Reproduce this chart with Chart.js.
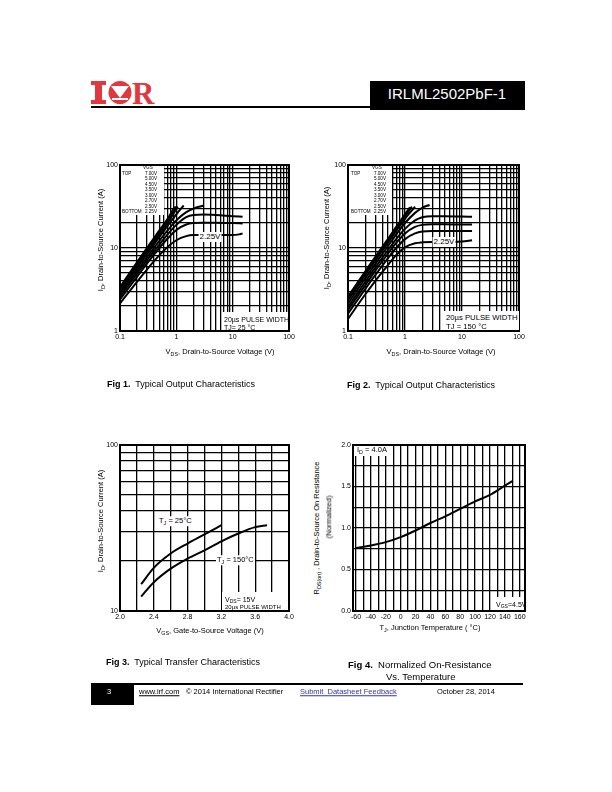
<!DOCTYPE html>
<html>
<head>
<meta charset="utf-8">
<title>IRLML2502PbF-1</title>
<script src="https://cdn.jsdelivr.net/npm/chart.js@4.4.1/dist/chart.umd.min.js"></script>
<style>
  html, body { margin: 0; padding: 0; background: #fff; }
  body { font-family: "Liberation Sans", Arial, sans-serif; color: #000; }
  #page { position: relative; width: 612px; height: 792px; overflow: hidden; }
  canvas { position: absolute; }
  .t { position: absolute; white-space: nowrap; line-height: 1; }
  .l { transform: translateY(-50%); }
  .r { transform: translate(-100%, -50%); }
  .c { transform: translate(-50%, -50%); }
  .rot { transform: translate(-50%, -50%) rotate(-90deg); }
  .wb { position: absolute; background: #fff; }
  .blk { position: absolute; background: #000; }
  sub { font-size: 72%; vertical-align: -0.3em; line-height: 0; }
  .ax { font-size: 7.5px; }
  .lg { font-size: 4.6px; }
  .cap { font-size: 9px; }
  .ft { font-size: 7.5px; }
</style>
</head>
<body>
<div id="page">

  <!-- header -->
  <svg class="t" style="left:91px;top:81px" width="64" height="25" viewBox="0 0 64 25">
    <rect x="0" y="0" width="15" height="4" fill="#e0383e"/>
    <rect x="4" y="0" width="7" height="23" fill="#e0383e"/>
    <rect x="0" y="19" width="15" height="4" fill="#e0383e"/>
    <circle cx="29" cy="11.5" r="11.5" fill="#e0383e"/>
    <polygon points="20,5 38,5 29,17" fill="#fff"/>
    <rect x="21" y="17" width="16" height="2" fill="#fff"/>
    <text x="41" y="23" font-family="Liberation Serif, serif" font-weight="bold" font-size="31" fill="#e0383e">R</text>
  </svg>
  <div class="blk" style="left:91px;top:106px;width:280px;height:2px"></div>
  <div class="blk" style="left:370px;top:81px;width:155px;height:29px"></div>
  <div class="t c" style="left:447px;top:93px;font-size:15px;color:#fff">IRLML2502PbF-1</div>

  <canvas id="c1" width="205" height="200" style="left:95px;top:155px"></canvas>
  <canvas id="c2" width="210" height="200" style="left:323px;top:155px"></canvas>
  <canvas id="c3" width="205" height="200" style="left:95px;top:435px"></canvas>
  <canvas id="c4" width="215" height="200" style="left:323px;top:435px"></canvas>

  <!-- Fig 1 texts -->
  <div class="wb" id="lg1" style="left:121px;top:166px;width:43px;height:49px"></div>
  <div class="wb" style="left:222px;top:312px;width:66px;height:18px"></div>
  <div class="t l" style="left:224px;top:318.5px;font-size:7px">20µs PULSE WIDTH</div>
  <div class="t l" style="left:224px;top:326.5px;font-size:7px">TJ= 25 °C</div>
  <div class="t c" style="left:210px;top:236.5px;font-size:8px;background:#fff;padding:1px">2.25V</div>
  <div class="t rot ax" style="left:101px;top:240px">I<sub>D</sub>, Drain-to-Source Current (A)</div>
  <div class="t c ax" style="left:220px;top:352px">V<sub>DS</sub>, Drain-to-Source Voltage (V)</div>
  <div class="t l cap" style="left:107px;top:384px"><b>Fig 1.</b>&nbsp; Typical Output Characteristics</div>

  <!-- Fig 2 texts -->
  <div class="wb" id="lg2" style="left:349px;top:166px;width:43px;height:49px"></div>
  <div class="wb" style="left:444px;top:311px;width:75px;height:19px"></div>
  <div class="t l" style="left:446px;top:318px;font-size:7.7px">20µs PULSE WIDTH</div>
  <div class="t l" style="left:446px;top:327px;font-size:7.7px">TJ = 150 °C</div>
  <div class="t c" style="left:444px;top:242px;font-size:8px;background:#fff;padding:1px">2.25V</div>
  <div class="t rot ax" style="left:327px;top:238px">I<sub>D</sub>, Drain-to-Source Current (A)</div>
  <div class="t c ax" style="left:441px;top:352px">V<sub>DS</sub>, Drain-to-Source Voltage (V)</div>
  <div class="t l cap" style="left:347px;top:385px"><b>Fig 2.</b>&nbsp; Typical Output Characteristics</div>

  <!-- Fig 3 texts -->
  <div class="t l ax" style="left:158px;top:521px;background:#fff;padding:1px">T<sub>J</sub> = 25°C</div>
  <div class="t l ax" style="left:216px;top:560px;background:#fff;padding:1px">T<sub>J</sub> = 150°C</div>
  <div class="wb" style="left:222px;top:592px;width:66px;height:18px"></div>
  <div class="t l" style="left:225px;top:598.5px;font-size:7px">V<sub>DS</sub>= 15V</div>
  <div class="t l" style="left:225px;top:606.5px;font-size:6px">20µs PULSE WIDTH</div>
  <div class="t rot ax" style="left:101px;top:521px">I<sub>D</sub>, Drain-to-Source Current (A)</div>
  <div class="t c ax" style="left:210px;top:631px">V<sub>GS</sub>, Gate-to-Source Voltage (V)</div>
  <div class="t l cap" style="left:106px;top:662px"><b>Fig 3.</b>&nbsp; Typical Transfer Characteristics</div>

  <!-- Fig 4 texts -->
  <div class="wb" style="left:354px;top:446px;width:37px;height:10px"></div>
  <div class="t l ax" style="left:357px;top:450px">I<sub>D</sub> = 4.0A</div>
  <div class="wb" style="left:494px;top:597px;width:30px;height:13px"></div>
  <div class="t l" style="left:496px;top:604px;font-size:7px">V<sub>GS</sub>=4.5V</div>
  <div class="t rot ax" style="left:317px;top:528px">R<sub>DS(on)</sub> , Drain-to-Source On Resistance</div>
  <div class="t rot ax" style="left:329px;top:517px">(Normalized)</div>
  <div class="t c ax" style="left:430px;top:628px">T<sub>J</sub>, Junction Temperature ( °C)</div>
  <div class="t l" style="left:348px;top:665px;font-size:9.5px"><b>Fig 4.</b>&nbsp; Normalized On-Resistance</div>
  <div class="t l" style="left:386px;top:677px;font-size:9.5px">Vs. Temperature</div>

  <!-- footer -->
  <div class="blk" style="left:91px;top:683px;width:432px;height:2px"></div>
  <div class="blk" style="left:91px;top:683px;width:43px;height:22px"></div>
  <div class="t c ft" style="left:109px;top:692px;color:#fff">3</div>
  <div class="t l ft" style="left:139px;top:692px;text-decoration:underline">www.irf.com</div>
  <div class="t l ft" style="left:186px;top:692px">© 2014 International Rectifier</div>
  <div class="t l ft" style="left:300px;top:692px;color:#3434a8;text-decoration:underline">Submit&nbsp; Datasheet Feedback</div>
  <div class="t l ft" style="left:437px;top:692px">October 28, 2014</div>
</div>

<script>
// ************ data : Fig 1 (Tj = 25 C) and Fig 2 (Tj = 150 C) ************
var vgsList = ["7.00V", "5.00V", "4.50V", "3.50V", "3.00V", "2.70V", "2.50V", "2.25V"];

var f1Vds700 = [0.1, 0.2, 0.3, 0.5, 0.7, 0.94];
var f1Id700 = [3.4, 6.7, 10, 16.3, 22.5, 31.5];
var f1Vds500 = [0.1, 0.2, 0.3, 0.5, 0.7, 0.99];
var f1Id500 = [3.25, 6.4, 9.5, 15.5, 21.5, 31.5];
var f1Vds450 = [0.1, 0.2, 0.3, 0.5, 0.7, 1.06];
var f1Id450 = [3.1, 6.1, 9, 14.6, 20, 31.5];
var f1Vds350 = [0.1, 0.2, 0.3, 0.5, 0.7, 1.0, 1.35];
var f1Id350 = [2.9, 5.7, 8.4, 13.6, 18.5, 25.5, 32.5];
var f1Vds300 = [0.1, 0.2, 0.3, 0.5, 0.7, 1.0, 1.5, 2.2, 3.1];
var f1Id300 = [2.75, 5.3, 7.7, 12.2, 16.3, 21.5, 27, 30.5, 32.5];
var f1Vds270 = [0.1, 0.2, 0.3, 0.5, 0.7, 1.0, 1.5, 2, 3, 5, 10, 15];
var f1Id270 = [2.6, 4.9, 7.1, 11, 14.6, 19, 23.5, 25, 25.3, 25, 24.2, 23.8];
var f1Vds250 = [0.1, 0.2, 0.3, 0.5, 0.7, 1.0, 1.5, 2, 3, 5, 10, 15];
var f1Id250 = [2.4, 4.5, 6.5, 10, 13, 16.5, 19.2, 20, 20.2, 20.2, 20, 19.8];
var f1Vds225 = [0.1, 0.2, 0.3, 0.5, 0.7, 1.0, 1.5, 2, 5, 10, 13, 15];
var f1Id225 = [2.15, 3.9, 5.5, 8.2, 10.3, 12.4, 13.9, 14.3, 14.3, 14.3, 14.6, 15];

var f2Vds700 = [0.1, 0.2, 0.3, 0.5, 0.7, 1.0, 1.22];
var f2Id700 = [2.6, 5.2, 7.8, 12.8, 18, 25.5, 31];
var f2Vds500 = [0.1, 0.2, 0.3, 0.5, 0.7, 1.0, 1.32];
var f2Id500 = [2.5, 5.0, 7.4, 12.2, 17, 24, 31.5];
var f2Vds450 = [0.1, 0.2, 0.3, 0.5, 0.7, 1.0, 1.3, 1.5];
var f2Id450 = [2.35, 4.7, 7, 11.5, 16, 22.5, 28, 31.5];
var f2Vds350 = [0.1, 0.2, 0.3, 0.5, 0.7, 1.0, 1.5, 2.0, 2.7];
var f2Id350 = [2.15, 4.3, 6.4, 10.5, 14.5, 20, 26.5, 30.5, 33];
var f2Vds300 = [0.1, 0.2, 0.3, 0.5, 0.7, 1.0, 1.5, 2, 3, 5, 10, 15];
var f2Id300 = [1.95, 3.9, 5.8, 9.4, 12.8, 17, 21.5, 23.5, 24.2, 24.2, 24, 23.8];
var f2Vds270 = [0.1, 0.2, 0.3, 0.5, 0.7, 1.0, 1.5, 2, 3, 5, 10, 15];
var f2Id270 = [1.8, 3.55, 5.3, 8.5, 11.5, 15, 18, 19, 19.3, 19.3, 19.2, 19.2];
var f2Vds250 = [0.1, 0.2, 0.3, 0.5, 0.7, 1.0, 1.5, 2, 3, 5, 10, 15];
var f2Id250 = [1.62, 3.2, 4.7, 7.5, 10, 12.8, 15, 15.8, 16, 16, 16, 16];
var f2Vds225 = [0.1, 0.2, 0.3, 0.5, 0.7, 1.0, 1.5, 2, 3, 5, 10, 15];
var f2Id225 = [1.4, 2.75, 4, 6.2, 8.2, 10.2, 11.4, 11.7, 11.8, 11.8, 12, 12.4];

// ************ data : Fig 3 (transfer) ************
var f3Vgs25 = [2.25, 2.4, 2.6, 2.8, 3.0, 3.2];
var f3Id25 = [14.5, 18.2, 22.2, 25.5, 28.9, 32.9];
var f3Vgs150 = [2.25, 2.4, 2.6, 2.8, 3.0, 3.2, 3.4, 3.6, 3.74];
var f3Id150 = [12.2, 14.9, 18.0, 20.7, 23.2, 26.3, 29.3, 32.0, 32.9];

// ************ data : Fig 4 (normalized Rds(on)) ************
var f4Temp = [-60, -40, -20, 0, 20, 40, 60, 80, 100, 120, 140, 150];
var f4Rds = [0.76, 0.79, 0.83, 0.89, 0.97, 1.06, 1.14, 1.23, 1.32, 1.40, 1.51, 1.565];

// ************ tick labels ************
var decadeVals = [0.1, 1, 10, 100];
var decadeTxt = ["0.1", "1", "10", "100"];
var f3XVals = [2.0, 2.4, 2.8, 3.2, 3.6, 4.0];
var f3XTxt = ["2.0", "2.4", "2.8", "3.2", "3.6", "4.0"];
var f4XVals = [-60, -40, -20, 0, 20, 40, 60, 80, 100, 120, 140, 160];
var f4XTxt = ["-60", "-40", "-20", "0", "20", "40", "60", "80", "100", "120", "140", "160"];
var f4YVals = [0, 0.5, 1, 1.5, 2];
var f4YTxt = ["0.0", "0.5", "1.0", "1.5", "2.0"];

// legend blocks (VGS list) for fig 1 and 2
function legendBlock(x0) {
  var page = document.getElementById("page");
  function put(txt, left, top, cls) {
    var d = document.createElement("div");
    d.className = "t lg " + cls;
    d.style.left = left + "px";
    d.style.top = top + "px";
    d.textContent = txt;
    page.appendChild(d);
  }
  put("VGS", x0 + 22, 168, "l");
  put("TOP", x0 + 1, 174, "l");
  put("BOTTOM", x0 + 1, 212, "l");
  for (var i = 0; i < vgsList.length; i++) {
    put(vgsList[i], x0 + 36, 174 + i * 5.43, "r");
  }
}
legendBlock(121);
legendBlock(350);

Chart.defaults.font.family = '"Liberation Sans", Arial, sans-serif';
Chart.defaults.font.size = 7;
Chart.defaults.color = "#000";

function pts(xs, ys) {
  return xs.map(function (x, i) { return { x: x, y: ys[i] }; });
}

function curve(xs, ys) {
  return {
    data: pts(xs, ys),
    borderColor: "#000",
    borderWidth: 2,
    pointRadius: 0,
    fill: false,
    tension: 0.4,
    cubicInterpolationMode: "monotone"
  };
}

// gridline values: 1..9 in every decade
function logGrid(min, max) {
  var out = [];
  for (var d = min; d < max; d *= 10)
    for (var k = 1; k < 10; k++) out.push(+(d * k).toPrecision(3));
  out.push(max);
  return out;
}

function stepGrid(min, max, step) {
  var out = [];
  for (var v = min; v <= max + 1e-9; v += step) out.push(Math.round(v * 100) / 100);
  return out;
}

function axis(type, min, max, grid, labVals, labTxt, size, isX) {
  return {
    type: type,
    min: min,
    max: max,
    afterBuildTicks: function (s) {
      s.ticks = grid.map(function (v) { return { value: v }; });
    },
    afterFit: function (s) {
      if (isX) s.height = size; else s.width = size;
    },
    ticks: {
      autoSkip: false,
      maxRotation: 0,
      padding: 2,
      callback: function (v) {
        var i = labVals.indexOf(v);
        return i < 0 ? "" : labTxt[i];
      }
    },
    grid: { color: "#000", lineWidth: 1.3, drawTicks: false },
    border: { display: false }
  };
}

var frame = {
  id: "frame",
  afterDraw: function (chart) {
    var a = chart.chartArea, ctx = chart.ctx;
    ctx.save();
    ctx.strokeStyle = "#000";
    ctx.lineWidth = 2;
    ctx.strokeRect(a.left, a.top, a.right - a.left, a.bottom - a.top);
    ctx.restore();
  }
};

function makeChart(id, datasets, xAxis, yAxis, pad) {
  return new Chart(document.getElementById(id), {
    type: "line",
    data: { datasets: datasets },
    options: {
      responsive: false,
      animation: false,
      events: [],
      layout: { padding: pad },
      plugins: { legend: { display: false }, tooltip: { enabled: false } },
      scales: { x: xAxis, y: yAxis }
    },
    plugins: [frame]
  });
}

// Fig 1
makeChart("c1", [
  curve(f1Vds700, f1Id700), curve(f1Vds500, f1Id500), curve(f1Vds450, f1Id450),
  curve(f1Vds350, f1Id350), curve(f1Vds300, f1Id300), curve(f1Vds270, f1Id270),
  curve(f1Vds250, f1Id250), curve(f1Vds225, f1Id225)
],
  axis("logarithmic", 0.1, 100, logGrid(0.1, 100), decadeVals, decadeTxt, 14, true),
  axis("logarithmic", 1, 100, logGrid(1, 100), decadeVals, decadeTxt, 25, false),
  { top: 10, right: 11, bottom: 10, left: 0 });

// Fig 2
makeChart("c2", [
  curve(f2Vds700, f2Id700), curve(f2Vds500, f2Id500), curve(f2Vds450, f2Id450),
  curve(f2Vds350, f2Id350), curve(f2Vds300, f2Id300), curve(f2Vds270, f2Id270),
  curve(f2Vds250, f2Id250), curve(f2Vds225, f2Id225)
],
  axis("logarithmic", 0.1, 100, logGrid(0.1, 100), decadeVals, decadeTxt, 14, true),
  axis("logarithmic", 1, 100, logGrid(1, 100), decadeVals, decadeTxt, 25, false),
  { top: 10, right: 14, bottom: 10, left: 0 });

// Fig 3
makeChart("c3", [curve(f3Vgs25, f3Id25), curve(f3Vgs150, f3Id150)],
  axis("linear", 2.0, 4.0, stepGrid(2.0, 4.0, 0.2), f3XVals, f3XTxt, 14, true),
  axis("logarithmic", 10, 100, logGrid(10, 100), [10, 100], ["10", "100"], 25, false),
  { top: 10, right: 11, bottom: 10, left: 0 });

// Fig 4
makeChart("c4", [curve(f4Temp, f4Rds)],
  axis("linear", -64, 167, stepGrid(-60, 160, 10), f4XVals, f4XTxt, 14, true),
  axis("linear", 0, 2, stepGrid(0, 2, 0.25), f4YVals, f4YTxt, 30, false),
  { top: 10, right: 13, bottom: 10, left: 0 });
</script>
</body>
</html>
